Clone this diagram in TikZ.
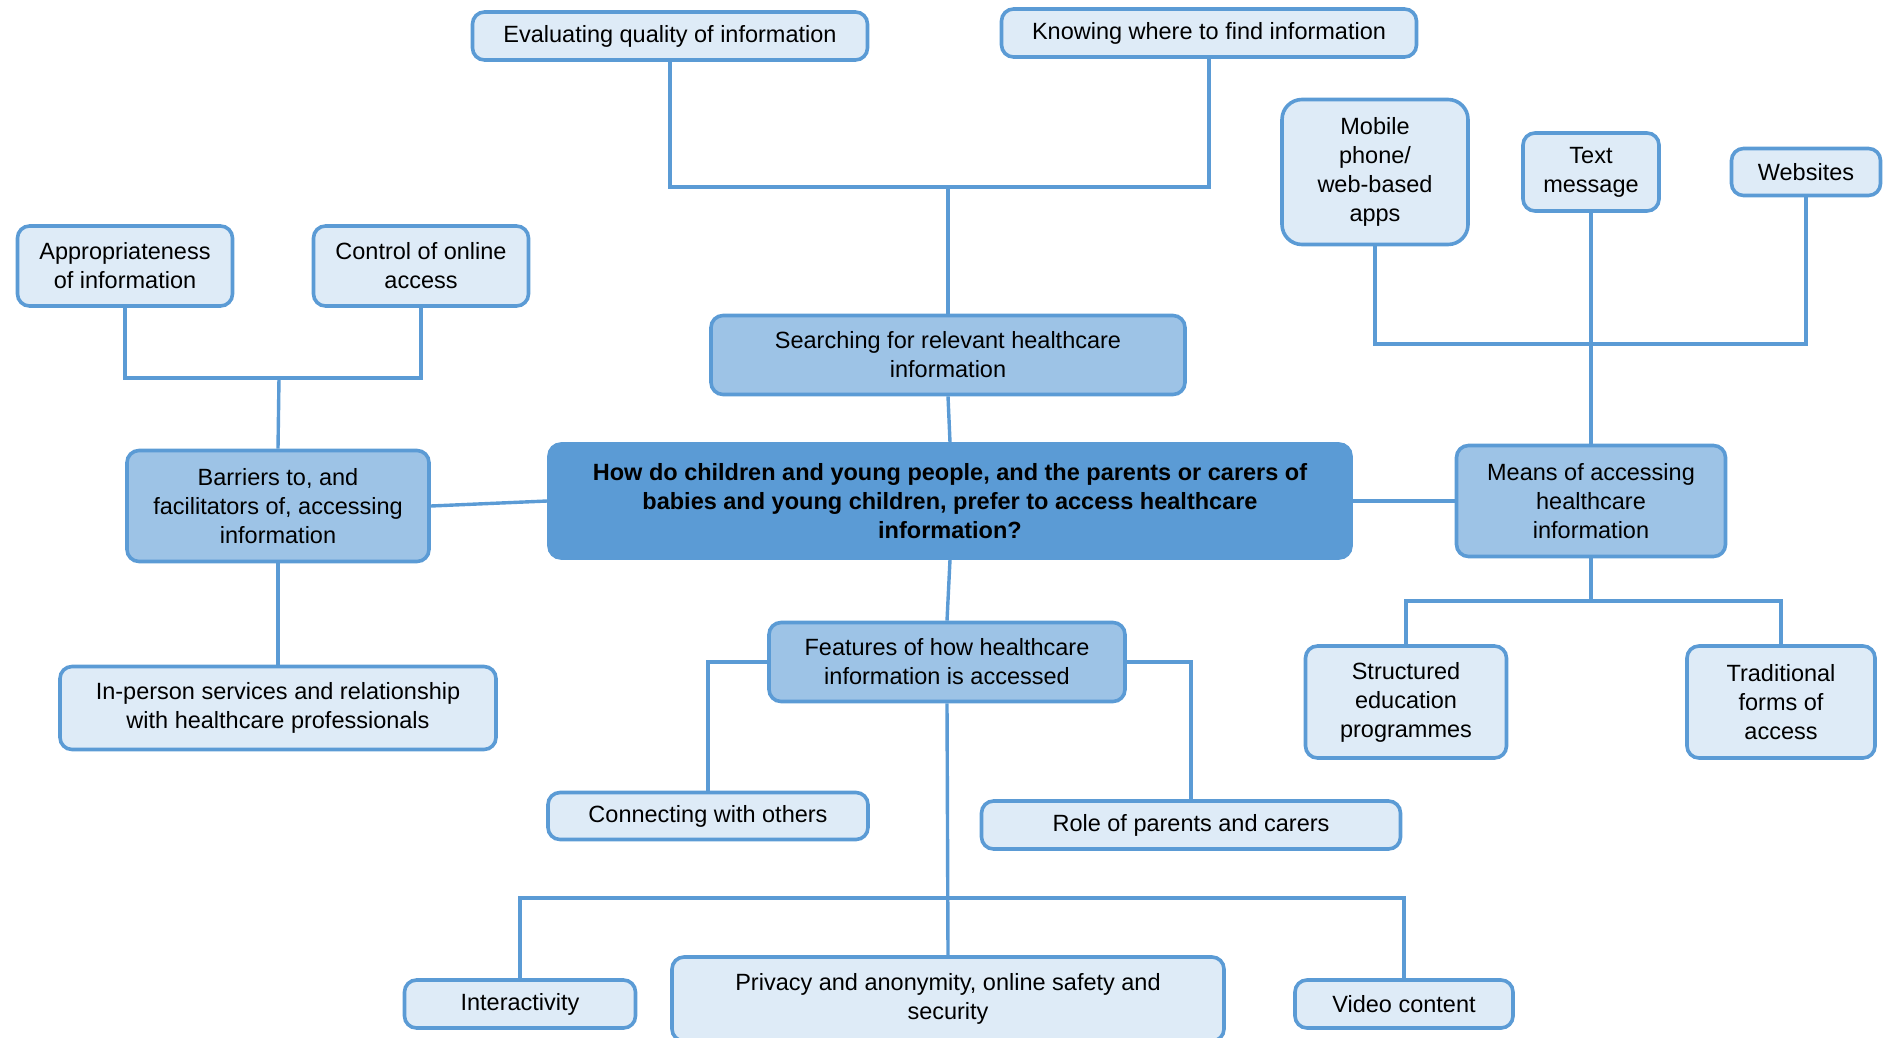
\documentclass[tikz,border=0pt]{standalone}
\usepackage{fontspec}
\setmainfont{Liberation Sans}
\usepackage{xcolor}
\usepackage{tikz}
\usetikzlibrary{positioning,calc}
\definecolor{mapblue}{HTML}{5B9BD5}
\definecolor{mapmid}{HTML}{9DC3E6}
\definecolor{maplight}{HTML}{DEEBF7}

\tikzset{
  box/.style={draw=mapblue,line width=3.6pt,rounded corners=12pt,align=center,
              inner sep=2pt,font=\fontsize{23.5}{29}\selectfont},
  root/.style={box,fill=mapblue,font=\fontsize{23.5}{29}\selectfont\bfseries},
  branch/.style={box,fill=mapmid},
  leaf/.style={box,fill=maplight},
  link/.style={draw=mapblue,line width=3.4pt}
}

\begin{document}
\begin{tikzpicture}[x=1pt,y=-1pt]
    \useasboundingbox (0,0) rectangle (1888,1037);
    % centre et branches
    \node[root,minimum width=802,minimum height=114] (root) at (950,501)
      {How do children and young people, and the parents or carers of\\
       babies and young children, prefer to access healthcare\\ information?};
    \node[branch,minimum width=474,minimum height=79] (search) at (948,355)
      {Searching for relevant healthcare\\ information};
    \node[branch,minimum width=302,minimum height=111] (barriers) at (278,506)
      {Barriers to, and\\ facilitators of, accessing\\ information};
    \node[branch,minimum width=269,minimum height=111] (means) at (1591,501)
      {Means of accessing\\ healthcare\\ information};
    \node[branch,minimum width=356,minimum height=79] (features) at (947,662)
      {Features of how healthcare\\ information is accessed};
    % feuilles du haut
    \node[leaf,minimum width=395,minimum height=48] (eval) at (670,36)
      {Evaluating quality of information};
    \node[leaf,minimum width=415,minimum height=48] (knowing) at (1209,33)
      {Knowing where to find information};
    % feuilles de gauche
    \node[leaf,minimum width=215,minimum height=80] (approp) at (125,266)
      {Appropriateness\\ of information};
    \node[leaf,minimum width=215,minimum height=80] (control) at (421,266)
      {Control of online\\ access};
    \node[leaf,minimum width=436,minimum height=83] (inperson) at (278,708)
      {In-person services and relationship\\ with healthcare professionals};
    % feuilles de droite
    \node[leaf,rounded corners=20pt,minimum width=186,minimum height=145] (mobile) at (1375,172)
      {Mobile\\ phone/\\ web-based\\ apps};
    \node[leaf,minimum width=136,minimum height=78] (textmsg) at (1591,172)
      {Text\\ message};
    \node[leaf,minimum width=149,minimum height=47] (websites) at (1806,172)
      {Websites};
    \node[leaf,minimum width=201,minimum height=112] (structured) at (1406,702)
      {Structured\\ education\\ programmes};
    \node[leaf,minimum width=188,minimum height=112] (traditional) at (1781,702)
      {Traditional\\ forms of\\ access};
    % feuilles du bas
    \node[leaf,minimum width=320,minimum height=47] (connecting) at (708,816)
      {Connecting with others};
    \node[leaf,minimum width=419,minimum height=48] (role) at (1191,825)
      {Role of parents and carers};
    \node[leaf,minimum width=231,minimum height=48] (interact) at (520,1004)
      {Interactivity};
    \node[leaf,minimum width=552,minimum height=84] (privacy) at (948,999)
      {Privacy and anonymity, online safety and\\ security};
    \node[leaf,minimum width=218,minimum height=48] (video) at (1404,1004)
      {Video content};
    % points de jonction
    \coordinate (jsearch) at (948,187);
    \coordinate (jbar) at (279,378);
    \coordinate (jmeans) at (1591,344);
    \coordinate (jmeansb) at (1591,601);
    \coordinate (jfeat) at (948,898);
    % liaisons
    \draw[link] (eval.south) |- (jsearch) -| (knowing.south);
    \draw[link] (jsearch) -- (search.north);
    \draw[link] (search.south) -- (root.north);
    \draw[link] (approp.south) |- (jbar) -| (control.south);
    \draw[link] (jbar) -- (barriers.north);
    \draw[link] (barriers.east) -- (root.west);
    \draw[link] (barriers.south) -- (inperson.north);
    \draw[link] (mobile.south) |- (jmeans) -| (websites.south);
    \draw[link] (textmsg.south) -- (means.north);
    \draw[link] (root.east) -- (means.west);
    \draw[link] (means.south) -- (jmeansb);
    \draw[link] (structured.north) |- (jmeansb) -| (traditional.north);
    \draw[link] (root.south) -- (features.north);
    \draw[link] (features.west) -| (connecting.north);
    \draw[link] (features.east) -| (role.north);
    \draw[link] (interact.north) |- (jfeat) -| (video.north);
    \draw[link] (features.south) -- (privacy.north);
  \end{tikzpicture}
\end{document}
